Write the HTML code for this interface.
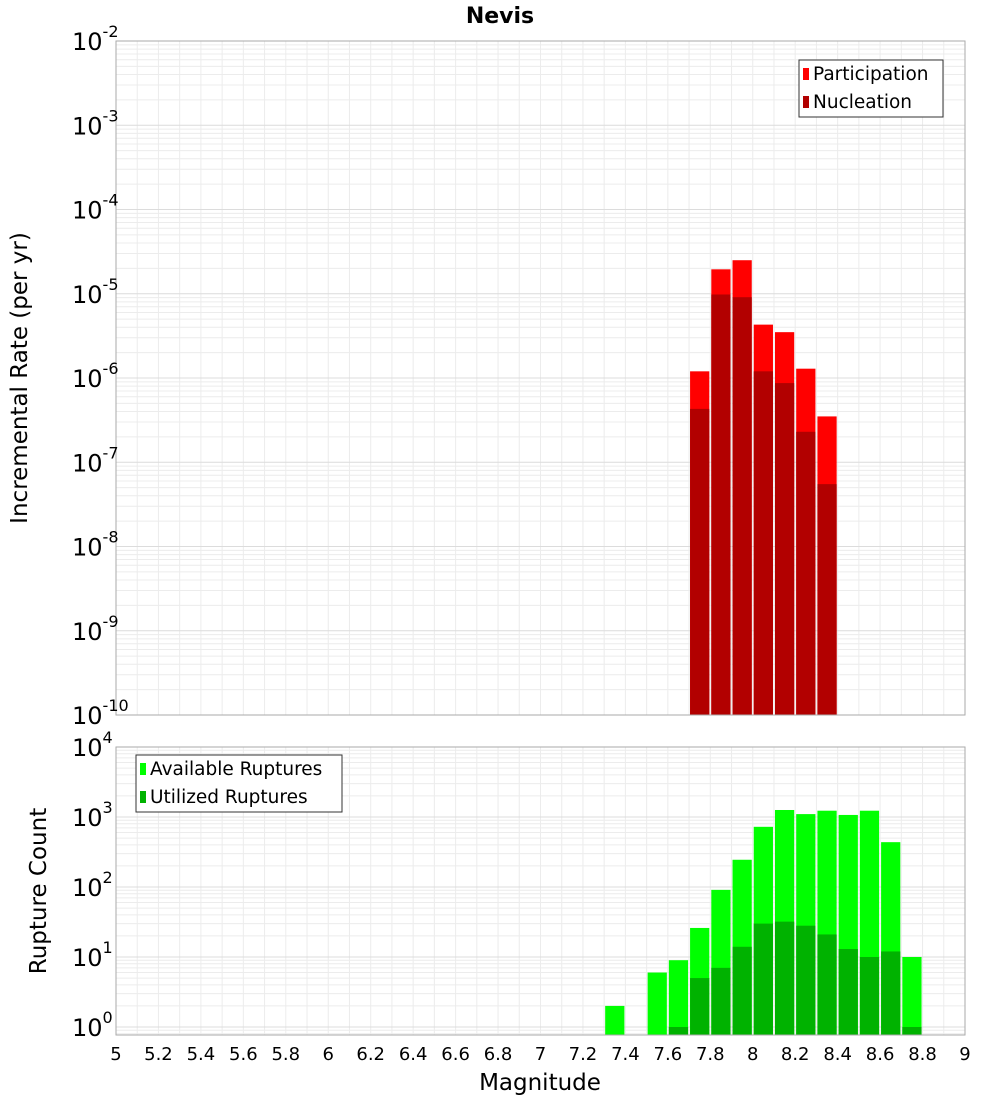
<!DOCTYPE html>
<html><head><meta charset="utf-8"><style>
body{margin:0;background:#fff;font-family:"Liberation Sans","DejaVu Sans",sans-serif}
svg text{font-family:"DejaVu Sans","Liberation Sans",sans-serif}
</style></head><body>
<svg id="chart" width="1000" height="1100" xmlns="http://www.w3.org/2000/svg"></svg>
<script>
const binCenters=[7.75,7.85,7.95,8.05,8.15,8.25,8.35];
const participation=[1.2e-6,1.95e-5,2.5e-5,4.3e-6,3.5e-6,1.29e-6,3.5e-7];
const nucleation=[4.3e-7,9.8e-6,9.1e-6,1.2e-6,8.7e-7,2.3e-7,5.5e-8];
const countCenters=[7.35,7.55,7.65,7.75,7.85,7.95,8.05,8.15,8.25,8.35,8.45,8.55,8.65,8.75];
const available=[2,6,9,26,91,245,724,1259,1100,1230,1070,1230,437,10];
const utilized=[0,0,1,5,7,14,30,32,28,21,13,10,12,1];
const xTicks=[5,5.2,5.4,5.6,5.8,6,6.2,6.4,6.6,6.8,7,7.2,7.4,7.6,7.8,8,8.2,8.4,8.6,8.8,9];
const topExps=[-2,-3,-4,-5,-6,-7,-8,-9,-10];
const botExps=[4,3,2,1,0];

const svg=document.getElementById('chart');
const NS='http://www.w3.org/2000/svg';
function mk(tag,attrs,parent){const e=document.createElementNS(NS,tag);for(const k in attrs)e.setAttribute(k,attrs[k]);(parent||svg).appendChild(e);return e;}
const X0=116,X1=965;
const xs=m=>X0+(m-5)/4*(X1-X0);
const T0=41,T1=715;
const yTop=v=>T0+(-2-Math.log10(v))*(T1-T0)/8;
const B0=747,BD=70,B1=1035;
const yBot=v=>Math.min(B1,B0+(4-Math.log10(v))*BD);

function panel(y0,y1,name){
  const g=mk('g',{});
  
  
  mk('rect',{x:X0,y:y0,width:X1-X0,height:y1-y0,fill:'#fff'},g);
  for(let m=5;m<=9.001;m+=0.1){const x=xs(m);mk('line',{x1:x,x2:x,y1:y0,y2:y1,stroke:'#ececec','stroke-width':1},g);}
  return g;
}
const gt=panel(T0,T1,'rate-plot');
for(let e=-10;e<-2;e++){for(let k=1;k<10;k++){const y=yTop(k*Math.pow(10,e));mk('line',{x1:X0,x2:X1,y1:y,y2:y,stroke:k==1?'#dcdcdc':'#ececec'},gt);}}
binCenters.forEach((c,i)=>{
  const x=xs(c-0.05)+1,w=xs(c+0.05)-xs(c-0.05)-2;
  let r=mk('rect',{x:x,y:yTop(participation[i]),width:w,height:T1-yTop(participation[i]),fill:'#ff0000'},gt);
  
  
  r=mk('rect',{x:x,y:yTop(nucleation[i]),width:w,height:T1-yTop(nucleation[i]),fill:'#b20000'},gt);
  
  
});
mk('rect',{x:X0,y:T0,width:X1-X0,height:T1-T0,fill:'none',stroke:'#aaa'},gt);
const gb=panel(B0,B1,'count-plot');
for(let e=-1;e<4;e++){for(let k=1;k<10;k++){const v=k*Math.pow(10,e);const y=B0+(4-Math.log10(v))*BD;if(y>B1||y<B0)continue;mk('line',{x1:X0,x2:X1,y1:y,y2:y,stroke:k==1?'#dcdcdc':'#ececec'},gb);}}
countCenters.forEach((c,i)=>{
  const x=xs(c-0.05)+1,w=xs(c+0.05)-xs(c-0.05)-2;
  let r=mk('rect',{x:x,y:yBot(available[i]),width:w,height:B1-yBot(available[i]),fill:'#00ff00'},gb);
  
  
  if(utilized[i]>0){
  r=mk('rect',{x:x,y:yBot(utilized[i]),width:w,height:B1-yBot(utilized[i]),fill:'#00b200'},gb);
  
  }
});
mk('rect',{x:X0,y:B0,width:X1-X0,height:B1-B0,fill:'none',stroke:'#aaa'},gb);

function powLabel(y,e,name){
  const t=mk('text',{x:72,y:y+9,'text-anchor':'start','font-size':24,fill:'#000'});
  
  
  const a=document.createElementNS(NS,'tspan');a.textContent='10';t.appendChild(a);
  const b=document.createElementNS(NS,'tspan');b.setAttribute('font-size',16);b.setAttribute('dy',-13);b.textContent=String(e);t.appendChild(b);
}
topExps.forEach(e=>powLabel(yTop(Math.pow(10,e)),e,'y-tick-label'));
botExps.forEach(e=>powLabel(B0+(4-e)*BD,e,'y-tick-label'));
xTicks.forEach(m=>{
  const t=mk('text',{x:xs(m),y:1060,'text-anchor':'middle','font-size':18,fill:'#000'});
  t.textContent=String(m);
  
  
});
function txt(s,attrs,name){const t=mk('text',attrs);t.textContent=s;return t;}
txt('Nevis',{x:500,y:23,'text-anchor':'middle','font-size':22,'font-weight':'bold'},'chart-title');
txt('Magnitude',{x:540,y:1090,'text-anchor':'middle','font-size':23},'x-axis-title');
txt('Incremental Rate (per yr)',{x:0,y:0,'text-anchor':'middle','font-size':23,transform:'translate(27,378) rotate(-90)'},'y-axis-title-rate');
txt('Rupture Count',{x:0,y:0,'text-anchor':'middle','font-size':23,transform:'translate(46,891) rotate(-90)'},'y-axis-title-count');
function legend(x,y,w,items,name){
  const g=mk('g',{});
  
  
  mk('rect',{x:x,y:y,width:w,height:57,fill:'#fff',stroke:'#333'},g);
  items.forEach((it,i)=>{
    mk('rect',{x:x+4,y:y+8+i*28,width:6,height:12,fill:it[1]},g);
    const t=mk('text',{x:x+14,y:y+20+i*28,'font-size':18.5},g);t.textContent=it[0];
  });
}
legend(799,60,144,[['Participation','#ff0000'],['Nucleation','#b20000']],'rate-legend');
legend(136,755,206,[['Available Ruptures','#00ff00'],['Utilized Ruptures','#00b200']],'count-legend');
</script>
</body></html>
